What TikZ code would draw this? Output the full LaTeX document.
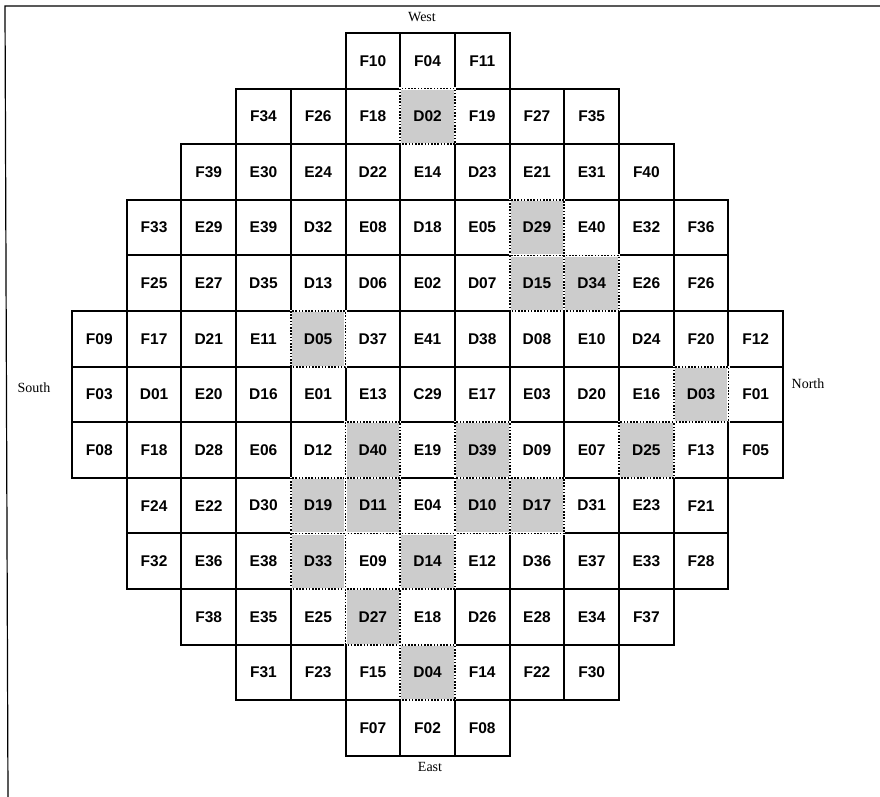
\documentclass[tikz,border=0pt]{standalone}
\usepackage{fontspec}
\setmainfont{Liberation Serif}
\newfontfamily\tilefont{Liberation Sans}
\usetikzlibrary{backgrounds}

\begin{document}
\begin{tikzpicture}[
    x=1pt, y=-1pt,
    tile/.style={rectangle, draw, line width=2pt, minimum width=54.7pt, minimum height=55.6pt, inner sep=0pt, outer sep=0pt, font=\tilefont\bfseries\fontsize{15.5}{17}\selectfont},
    dir/.style={font=\fontsize{14}{16}\selectfont},
    dfill/.style={fill=black!20},
    dborder/.style={draw, dash pattern=on 1.6pt off 1.6pt, line width=1.8pt}
]
\useasboundingbox (0,0) rectangle (880,797);
\draw[line width=1.2pt] (8,797) -- (5,6) -- (880,6);

\foreach \row/\first/\labs in {
    0/5/{F10,F04,F11},
    1/3/{F34,F26,F18,D02,F19,F27,F35},
    2/2/{F39,E30,E24,D22,E14,D23,E21,E31,F40},
    3/1/{F33,E29,E39,D32,E08,D18,E05,D29,E40,E32,F36},
    4/1/{F25,E27,D35,D13,D06,E02,D07,D15,D34,E26,F26},
    5/0/{F09,F17,D21,E11,D05,D37,E41,D38,D08,E10,D24,F20,F12},
    6/0/{F03,D01,E20,D16,E01,E13,C29,E17,E03,D20,E16,D03,F01},
    7/0/{F08,F18,D28,E06,D12,D40,E19,D39,D09,E07,D25,F13,F05},
    8/1/{F24,E22,D30,D19,D11,E04,D10,D17,D31,E23,F21},
    9/1/{F32,E36,E38,D33,E09,D14,E12,D36,E37,E33,F28},
    10/2/{F38,E35,E25,D27,E18,D26,E28,E34,F37},
    11/3/{F31,F23,F15,D04,F14,F22,F30},
    12/5/{F07,F02,F08}}{
  \foreach \lab [count=\i from 0] in \labs {
    \pgfmathtruncatemacro\col{\first+\i}
    \node[tile] (c\row-\col) at ({72+(\col+0.5)*54.7}, {33+(\row+0.5)*55.6}) {\lab};
  }
}

\foreach \row/\col in {1/6, 3/8, 4/8, 4/9, 5/4, 6/11, 7/5, 7/7, 7/10, 8/4, 8/5, 8/7, 8/8, 9/4, 9/6, 10/5, 11/6}{
  \begin{scope}[on background layer]
    \fill[dfill] (c\row-\col.north west) rectangle (c\row-\col.south east);
  \end{scope}
  \draw[white, line width=2.2pt] (c\row-\col.north west) rectangle (c\row-\col.south east);
  \draw[dborder] (c\row-\col.north west) rectangle (c\row-\col.south east);
}

\node[dir] (west) at (422,17) {West};
\node[dir] (east) at (430,767) {East};
\node[dir] (south) at (34,388) {South};
\node[dir] (north) at (808,384) {North};
\end{tikzpicture}
\end{document}
